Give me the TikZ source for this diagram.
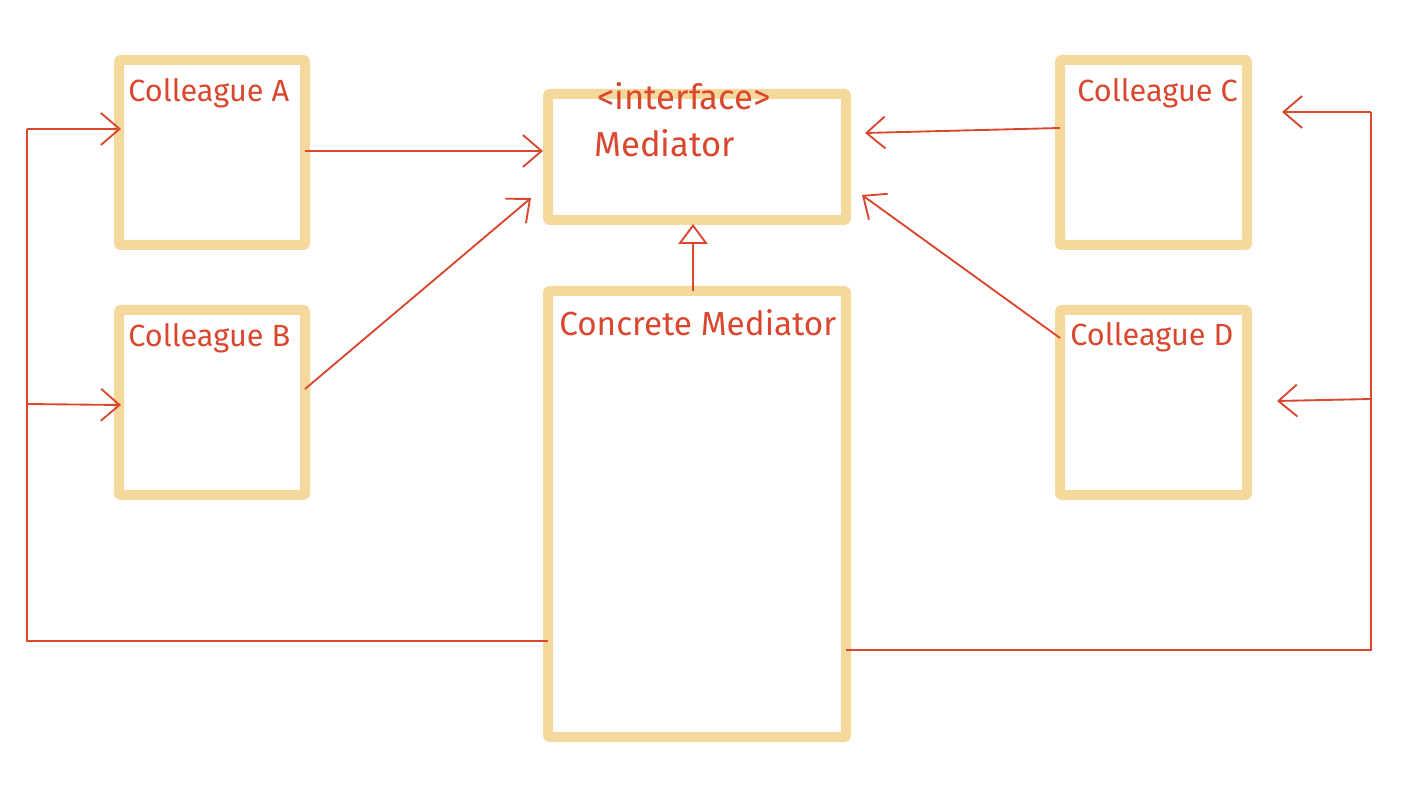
\documentclass[tikz,border=0pt]{standalone}
\usepackage{fontspec}
\setmainfont{Fira Sans}
\usetikzlibrary{arrows.meta}
\definecolor{boxc}{HTML}{F5D89B}
\definecolor{inkc}{HTML}{D9472F}
\tikzset{
  cbox/.style={draw=boxc, line width=7.5pt, rounded corners=1.5pt},
  lbl/.style={text=inkc, anchor=base west, inner sep=0pt, font=\fontsize{23}{26}\selectfont},
  lblbig/.style={lbl, font=\fontsize{26}{30}\selectfont},
  lblmid/.style={lbl, font=\fontsize{25}{29}\selectfont},
  conn/.style={draw=inkc, line width=1.4pt, -{Straight Barb[length=14pt,width=24pt,line width=1.4pt]}},
  plain/.style={draw=inkc, line width=1.4pt},
  inh/.style={draw=inkc, line width=1.4pt, -{Triangle[open,length=15pt,width=22pt,line width=1.4pt]}}
}
\begin{document}
\begin{tikzpicture}[x=0.75pt,y=-0.75pt]
\useasboundingbox (0,0) rectangle (1420,798);
% boxes
\draw[cbox] (119,60) rectangle (305,245);
\draw[cbox] (119,310) rectangle (305,495);
\draw[cbox] (548,94) rectangle (846,220);
\draw[cbox] (548,291) rectangle (846,737);
\draw[cbox] (1060,60) rectangle (1247,245);
\draw[cbox] (1060,310) rectangle (1247,495);
% named anchors
\coordinate (Aout) at (305,151);
\coordinate (Ain) at (121,129);
\coordinate (Bout) at (305,389);
\coordinate (Bin) at (121,405);
\coordinate (Cout) at (1060,128);
\coordinate (Cin) at (1282,112);
\coordinate (Dout) at (1060,338);
\coordinate (Din) at (1277,401);
\coordinate (M1) at (543,151);
\coordinate (M2) at (531,198);
\coordinate (M3) at (865,133);
\coordinate (M4) at (862,195);
\coordinate (Mbot) at (693,224);
\coordinate (CMtop) at (693,291);
\coordinate (CMl) at (548,641);
\coordinate (CMr) at (846,650);
\coordinate (L1) at (27,641);
\coordinate (L2) at (27,129);
\coordinate (LB) at (27,404);
\coordinate (R1) at (1371,650);
\coordinate (R2) at (1371,112);
\coordinate (RD) at (1371,399);
% labels
\node[lbl] (tA) at (128,102) {Colleague A};
\node[lbl] (tB) at (128,347) {Colleague B};
\node[lblbig] (tI) at (597,110) {<interface>};
\node[lblbig] (tM) at (594,157) {Mediator};
\node[lblmid] (tCM) at (559,336) {Concrete Mediator};
\node[lbl] (tC) at (1077,102) {Colleague C};
\node[lbl] (tD) at (1070,346) {Colleague D};
% connectors
\draw[conn] (Aout) -- (M1);
\draw[conn] (Bout) -- (M2);
\draw[conn] (Cout) -- (M3);
\draw[conn] (Dout) -- (M4);
\draw[inh] (CMtop) -- (Mbot);
\draw[plain] (CMl) -- (L1) -- (L2);
\draw[conn] (L2) -- (Ain);
\draw[conn] (LB) -- (Bin);
\draw[plain] (CMr) -- (R1) -- (R2);
\draw[conn] (R2) -- (Cin);
\draw[conn] (RD) -- (Din);
\end{tikzpicture}
\end{document}
